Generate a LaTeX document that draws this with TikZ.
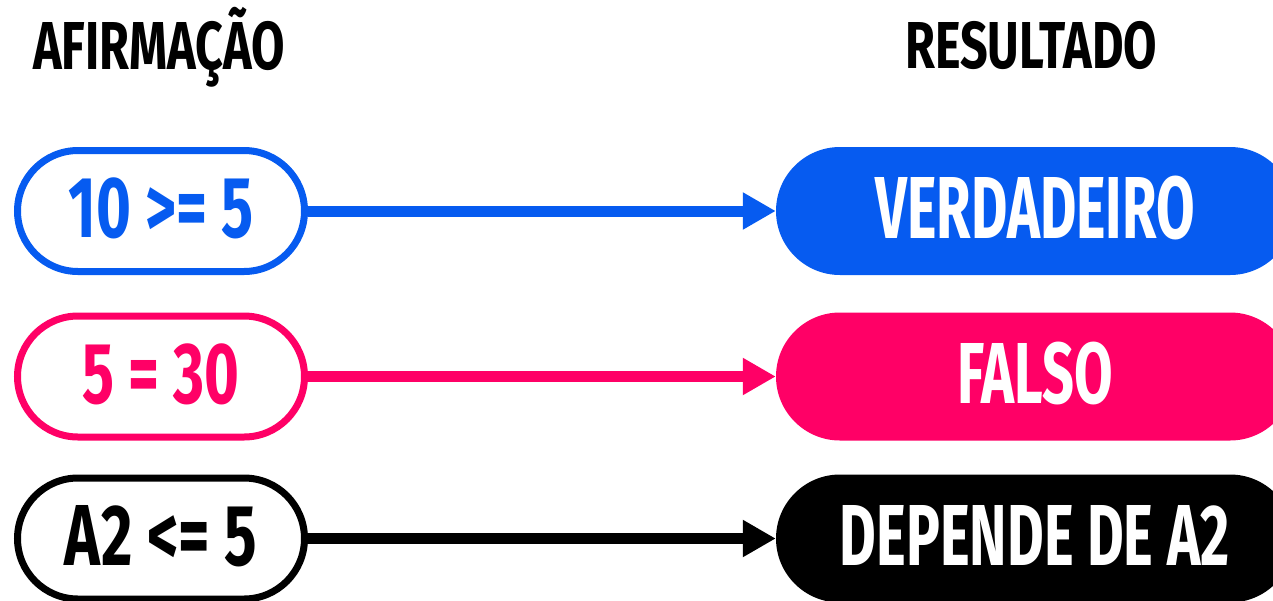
\documentclass[tikz,border=0pt]{standalone}
\usepackage{fontspec}
\usepackage{graphicx}
\setmainfont{Fira Sans}[UprightFont={* Bold},BoldFont={* Bold}]
\usetikzlibrary{arrows.meta}
\definecolor{cblue}{HTML}{065BF0}
\definecolor{cpink}{HTML}{FF0066}
\newcommand\capfit[3]{\resizebox{#1}{#2}{\setbox0=\hbox{#3}\ht0=\fontcharht\font`A\dp0=0pt\box0}}
\tikzset{
  stmt/.style={draw=#1, line width=7pt, minimum width=287pt, minimum height=121pt,
    rounded corners=60.5pt, inner sep=0pt, text depth=7pt, text=#1, fill=white},
  res/.style={fill=#1, minimum width=518pt, minimum height=128pt,
    rounded corners=64pt, inner sep=0pt, text depth=7pt, text=white},
  conn/.style={draw=#1, line width=11pt, -{Triangle[length=33pt,width=35pt]}},
  head/.style={anchor=north west, inner sep=0pt, text=black}
}
\begin{document}
\begin{tikzpicture}[x=1pt,y=-1pt]
\useasboundingbox (0,0) rectangle (1273,600);
\clip (0,0) rectangle (1273,600);
\node[head] (h1) at (33,22) {\capfit{252pt}{47pt}{AFIRMAÇÃO}};
\node[head] (h2) at (905,22) {\capfit{252pt}{46pt}{RESULTADO}};
\node[stmt=cblue] (a1) at (161,211) {\capfit{185pt}{60pt}{10 >= 5}};
\node[stmt=cpink] (a2) at (161,376.5) {\capfit{157pt}{60pt}{5 = 30}};
\node[stmt=black] (a3) at (161,538.5) {\capfit{192pt}{60pt}{A2 <= 5}};
\node[res=cblue] (r1) at (1035,211) {\capfit{319pt}{61pt}{VERDADEIRO}};
\node[res=cpink] (r2) at (1035,376.5) {\capfit{156pt}{60pt}{FALSO}};
\node[res=black] (r3) at (1035,538.5) {\capfit{390pt}{60pt}{DEPENDE DE A2}};
\draw[conn=cblue] (a1.east) -- (r1.west);
\draw[conn=cpink] (a2.east) -- (r2.west);
\draw[conn=black] (a3.east) -- (r3.west);
\end{tikzpicture}
\end{document}
